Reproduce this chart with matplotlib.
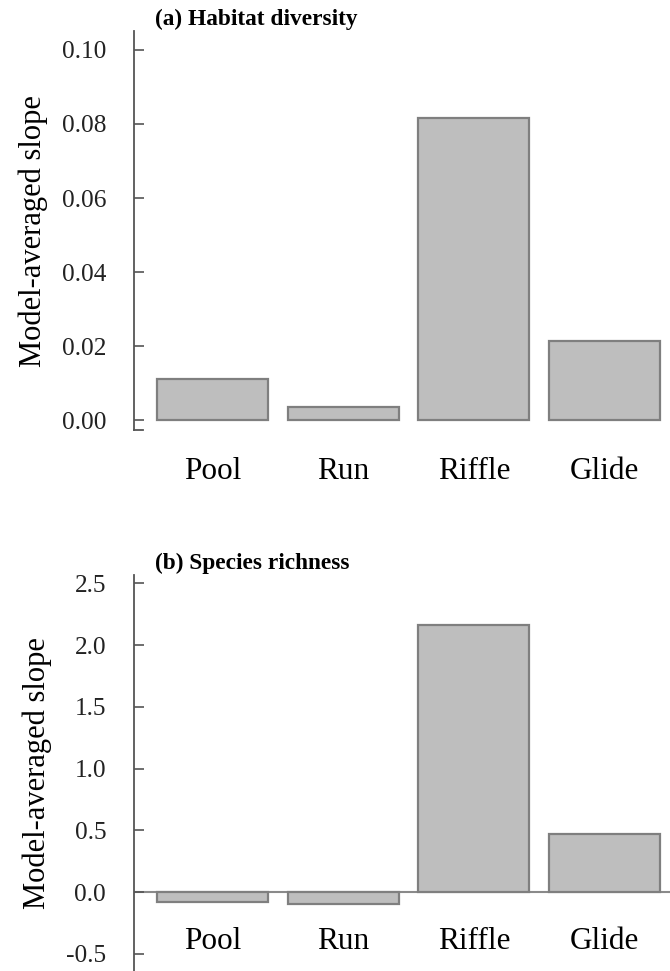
import matplotlib
matplotlib.use("Agg")
import matplotlib.pyplot as plt

# data
categories = ["Pool", "Run", "Riffle", "Glide"]
habitat_slope = [0.011, 0.0035, 0.0815, 0.0215]
richness_slope = [-0.08, -0.10, 2.16, 0.47]
habitat_ticks = [0.00, 0.02, 0.04, 0.06, 0.08, 0.10]
habitat_ticklabels = ["0.00", "0.02", "0.04", "0.06", "0.08", "0.10"]
richness_ticks = [-0.5, 0.0, 0.5, 1.0, 1.5, 2.0, 2.5]
richness_ticklabels = ["-0.5", "0.0", "0.5", "1.0", "1.5", "2.0", "2.5"]

plt.rcParams["font.family"] = ["Liberation Serif", "DejaVu Serif"]

BAR_FILL = "#bebebe"
BAR_EDGE = "#7f7f7f"
SPINE = "#555555"

fig = plt.figure(figsize=(6.7, 9.71), dpi=100)
ax_a = fig.add_axes([0.2, 0.557, 0.8, 0.411])
ax_b = fig.add_axes([0.2, 0.0, 0.8, 0.408])

x = list(range(len(categories)))


def style_axis(ax, ticks, ticklabels, ylim, title, label_pad):
    ax.set_xlim(-0.6, 3.5)
    ax.set_ylim(*ylim)
    ax.set_yticks(ticks)
    ax.set_yticklabels(ticklabels)
    ax.tick_params(axis="y", direction="in", length=7, width=1.2, color=SPINE,
                   labelsize=18.3, labelcolor="#222222", pad=20)
    ax.set_xticks(x)
    ax.set_xticklabels(categories)
    ax.tick_params(axis="x", length=0, labelsize=22.5, pad=label_pad)
    ax.spines["right"].set_visible(False)
    ax.spines["top"].set_visible(False)
    ax.spines["left"].set_color(SPINE)
    ax.spines["left"].set_linewidth(1.3)
    ax.set_ylabel("Model-averaged slope", fontsize=22, labelpad=10)
    ax.text(0.04, 1.003, title, transform=ax.transAxes, fontsize=16.8,
            fontweight="bold", ha="left", va="bottom")


# (a) Habitat diversity
ax_a.bar(x, habitat_slope, width=0.85, color=BAR_FILL, edgecolor=BAR_EDGE, linewidth=1.6)
style_axis(ax_a, habitat_ticks, habitat_ticklabels, (-0.0027, 0.1051),
           "(a) Habitat diversity", 19)
ax_a.spines["bottom"].set_position(("data", -0.0027))
ax_a.spines["bottom"].set_bounds(-0.6, -0.53)
ax_a.spines["bottom"].set_color(SPINE)
ax_a.spines["bottom"].set_linewidth(1.3)

# (b) Species richness
ax_b.axhline(0, color="#8a8a8a", linewidth=1.5, zorder=1)
ax_b.bar(x, richness_slope, width=0.85, color=BAR_FILL, edgecolor=BAR_EDGE, linewidth=1.6, zorder=2)
style_axis(ax_b, richness_ticks, richness_ticklabels, (-0.64, 2.57),
           "(b) Species richness", 25)
ax_b.spines["bottom"].set_position(("data", 0))
ax_b.spines["bottom"].set_visible(False)

fig.savefig("out.png", dpi=100)
